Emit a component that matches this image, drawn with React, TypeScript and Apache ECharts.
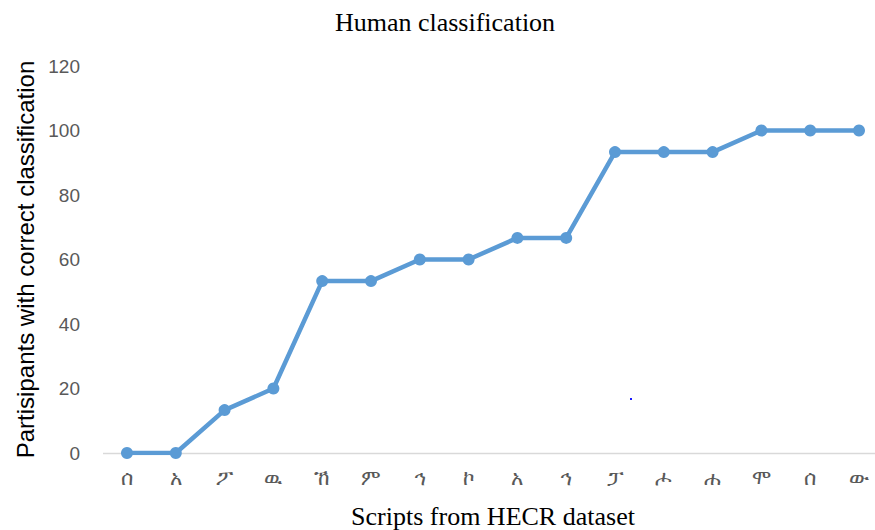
import React, { useEffect, useRef } from "react";
import * as echarts from "echarts";

const categories = ["ሰ", "አ", "ፖ", "ዉ", "ኸ", "ም", "ኅ", "ኮ", "አ", "ኅ", "ፓ", "ሖ", "ሐ", "ሞ", "ሰ", "ው"];
const values = [0, 0, 13.3, 20, 53.3, 53.3, 60, 60, 66.7, 66.7, 93.3, 93.3, 93.3, 100, 100, 100];
const yTicks = [0, 20, 40, 60, 80, 100, 120];

export default function App() {
  const ref = useRef<HTMLDivElement>(null);
  useEffect(() => {
    const chart = echarts.init(ref.current!, undefined, { renderer: "svg" });
    chart.setOption({
      animation: false,
      backgroundColor: "#ffffff",
      title: {
        text: "Human classification",
        left: 440,
        textAlign: "center",
        top: 4,
        textStyle: { fontFamily: "Liberation Serif", fontSize: 26, fontWeight: "normal", color: "#000" },
      },
      grid: { left: 127, right: 16, top: 66, bottom: 77, outerBoundsMode: "none", containLabel: false },
      xAxis: {
        type: "category",
        data: categories,
        boundaryGap: false,
        axisLine: { show: false },
        axisTick: { show: false },
        axisLabel: { color: "#595959", fontSize: 21, margin: 14, fontFamily: "DejaVu Sans" },
        name: "Scripts from HECR dataset",
        nameLocation: "middle",
        nameGap: 50,
        nameTextStyle: { fontFamily: "Liberation Serif", fontSize: 26, color: "#000" },
      },
      yAxis: {
        type: "value",
        min: yTicks[0],
        max: yTicks[yTicks.length - 1],
        interval: 20,
        splitLine: { show: false },
        axisLine: { show: false },
        axisTick: { show: false },
        axisLabel: { color: "#595959", fontSize: 19, margin: 47, fontFamily: "Liberation Sans" },
        name: "Partisipants with correct classification",
        nameLocation: "middle",
        nameGap: 88,
        nameTextStyle: { fontFamily: "Liberation Sans", fontSize: 24, color: "#000" },
      },
      series: [
        {
          type: "line",
          data: values,
          symbol: "circle",
          symbolSize: 12,
          itemStyle: { color: "#5B9BD5" },
          lineStyle: { color: "#5B9BD5", width: 4.5 },
          z: 3,
        },
      ],
      graphic: [
        { type: "line", z: 1, shape: { x1: 103, y1: 453.5, x2: 875, y2: 453.5 }, style: { stroke: "#d9d9d9", lineWidth: 1.5 } },
        { type: "rect", shape: { x: 630, y: 398, width: 2, height: 2 }, style: { fill: "#1a1aff" } },
      ],
    });
    return () => chart.dispose();
  }, []);
  return (
    <div
      ref={ref}
      style={{ width: 875, height: 530, position: "absolute", left: 0, top: 0 }}
    />
  );
}
